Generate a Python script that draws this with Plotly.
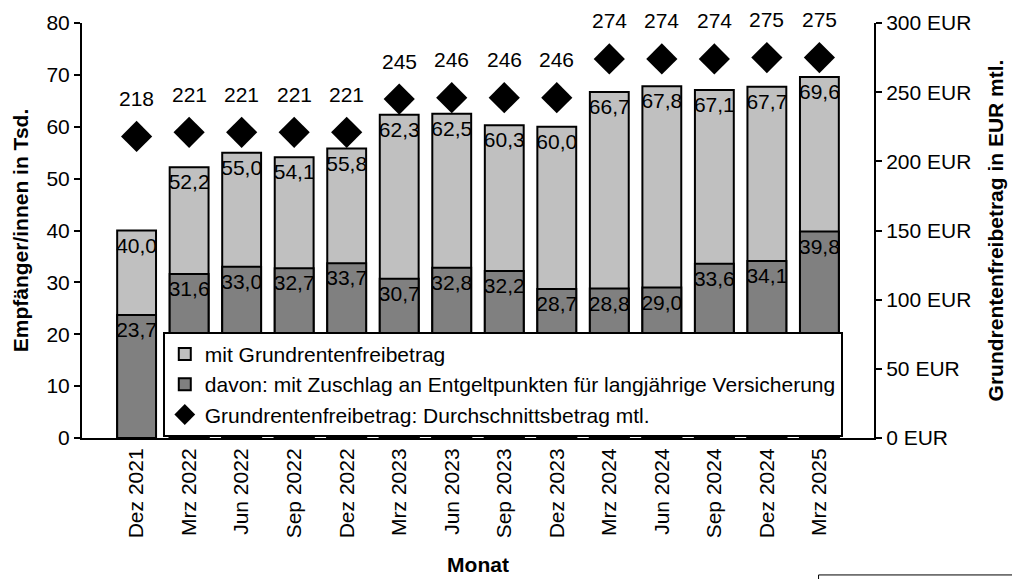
import plotly.graph_objects as go

monate = ["Dez 2021", "Mrz 2022", "Jun 2022", "Sep 2022", "Dez 2022", "Mrz 2023", "Jun 2023",
          "Sep 2023", "Dez 2023", "Mrz 2024", "Jun 2024", "Sep 2024", "Dez 2024", "Mrz 2025"]
mit_freibetrag = [40.0, 52.2, 55.0, 54.1, 55.8, 62.3, 62.5, 60.3, 60.0, 66.7, 67.8, 67.1, 67.7, 69.6]
mit_zuschlag = [23.7, 31.6, 33.0, 32.7, 33.7, 30.7, 32.8, 32.2, 28.7, 28.8, 29.0, 33.6, 34.1, 39.8]
betrag = [218, 221, 221, 221, 221, 245, 246, 246, 246, 274, 274, 274, 275, 275]

def de(v):
    return f"{v:.1f}".replace(".", ",")

font = "Arial, Liberation Sans, sans-serif"
FS = 21
TS = 21

fig = go.Figure()
fig.add_trace(go.Bar(
    x=monate, y=mit_freibetrag, name="mit Grundrentenfreibetrag",
    marker=dict(color="#c0c0c0", line=dict(color="black", width=2)),
    text=[de(v) for v in mit_freibetrag], textposition="inside", insidetextanchor="end",
    textangle=0, constraintext="none", textfont=dict(size=FS, color="black"),
))
fig.add_trace(go.Bar(
    x=monate, y=mit_zuschlag,
    name="davon: mit Zuschlag an Entgeltpunkten für langjährige Versicherung",
    marker=dict(color="#808080", line=dict(color="black", width=2)),
    text=[de(v) for v in mit_zuschlag], textposition="inside", insidetextanchor="end",
    textangle=0, constraintext="none", textfont=dict(size=FS, color="black"),
))
fig.add_trace(go.Scatter(
    x=monate, y=betrag, yaxis="y2", mode="markers",
    name="Grundrentenfreibetrag: Durchschnittsbetrag mtl.",
    marker=dict(symbol="diamond", size=24, color="black"),
))

for m, b in zip(monate, betrag):
    fig.add_annotation(x=m, y=b, yref="y2", text=str(b), showarrow=False, yshift=38,
                       font=dict(size=FS, color="black", family=font))

fig.update_layout(
    width=1012, height=579,
    margin=dict(l=82, r=138, t=23, b=141, autoexpand=False),
    plot_bgcolor="white", paper_bgcolor="white",
    font=dict(family=font, size=FS, color="black"),
    barmode="overlay", bargap=0.26,
    showlegend=True,
    legend=dict(x=0.102, y=0.256, xanchor="left", yanchor="top",
                bgcolor="white", bordercolor="black", borderwidth=2,
                font=dict(size=21), traceorder="normal", itemwidth=30),
    xaxis=dict(tickangle=-90, showline=True, linecolor="black", linewidth=2,
               ticks="", automargin=False,
               title=dict(text="<b>Monat</b>", standoff=20, font=dict(size=TS)),
               tickfont=dict(size=FS)),
    yaxis=dict(range=[0, 80], dtick=10, showgrid=False, showline=True, linecolor="black",
               linewidth=2, ticks="outside", ticklen=6, tickwidth=2, tickcolor="black",
               automargin=False,
               title=dict(text="<b>Empfänger/innen in Tsd.</b>", standoff=12, font=dict(size=TS)),
               tickfont=dict(size=FS), zeroline=False),
    yaxis2=dict(range=[0, 300], dtick=50, overlaying="y", side="right", showgrid=False,
                showline=True, linecolor="black", linewidth=2, ticks="outside", ticklen=6,
                tickwidth=2, tickcolor="black", ticksuffix=" EUR", automargin=False,
                title=dict(text="<b>Grundrentenfreibetrag in EUR mtl.</b>", standoff=18,
                           font=dict(size=TS)),
                tickfont=dict(size=FS), zeroline=False),
)

fig.add_shape(type="rect", xref="paper", yref="paper", x0=0.93, x1=1.2, y0=-0.33, y1=-0.5,
              line=dict(color="black", width=1), fillcolor="rgba(0,0,0,0)")

fig.write_html("out.html", config={"displayModeBar": False},
               post_script="document.body.style.margin='0';")
